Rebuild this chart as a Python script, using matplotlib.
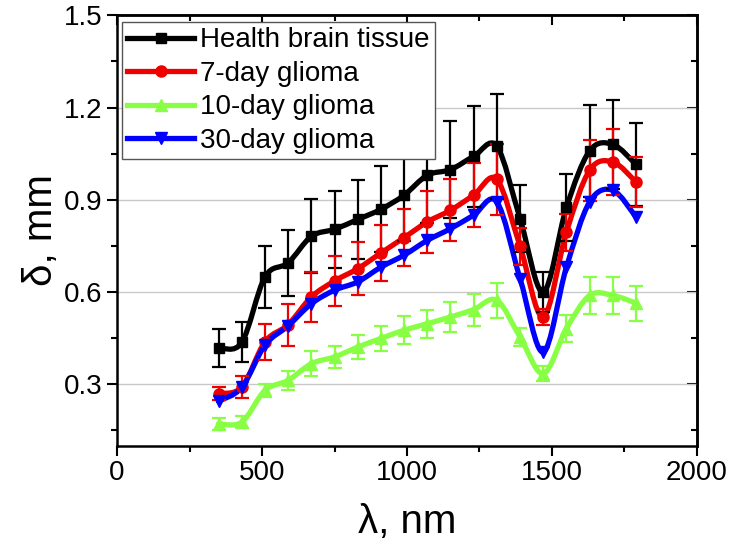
import matplotlib
matplotlib.use("Agg")
import matplotlib.pyplot as plt
import numpy as np
from matplotlib.path import Path
from matplotlib.patches import PathPatch
from matplotlib.lines import Line2D
from matplotlib.ticker import MultipleLocator

plt.rcParams['font.family'] = ['Liberation Sans', 'DejaVu Sans']

# wavelength, nm
wl = [350, 430, 510, 590, 670, 750, 830, 910, 990, 1070,
      1150, 1230, 1310, 1390, 1470, 1550, 1630, 1710, 1790]

health = [0.419, 0.436, 0.649, 0.695, 0.781, 0.804, 0.836, 0.869, 0.915, 0.980,
          0.998, 1.041, 1.074, 0.839, 0.600, 0.875, 1.059, 1.080, 1.015]
health_err = [0.062, 0.065, 0.100, 0.108, 0.120, 0.125, 0.127, 0.140, 0.150, 0.157,
              0.158, 0.164, 0.170, 0.110, 0.065, 0.110, 0.150, 0.146, 0.135]

g7 = [0.270, 0.291, 0.438, 0.494, 0.584, 0.636, 0.676, 0.727, 0.777, 0.828,
      0.866, 0.915, 0.966, 0.749, 0.519, 0.795, 0.996, 1.023, 0.958]
g7_err = [0.020, 0.035, 0.058, 0.068, 0.080, 0.080, 0.087, 0.090, 0.092, 0.100,
          0.100, 0.103, 0.114, 0.060, 0.027, 0.060, 0.100, 0.107, 0.080]

g10 = [0.172, 0.177, 0.280, 0.313, 0.367, 0.389, 0.421, 0.449, 0.476, 0.497,
       0.519, 0.543, 0.573, 0.454, 0.335, 0.481, 0.589, 0.589, 0.564]
g10_err = [0.020, 0.020, 0.020, 0.030, 0.040, 0.037, 0.040, 0.042, 0.045, 0.046,
           0.049, 0.052, 0.057, 0.030, 0.025, 0.045, 0.060, 0.060, 0.057]

g30 = [0.245, 0.290, 0.427, 0.490, 0.562, 0.606, 0.633, 0.681, 0.720, 0.768,
       0.806, 0.850, 0.893, 0.644, 0.405, 0.681, 0.893, 0.931, 0.844]

labels = ["Health brain tissue", "7-day glioma", "10-day glioma", "30-day glioma"]


def smooth_path(x, y):
    # Catmull-Rom curve through the points, drawn as cubic Bezier segments
    p = np.column_stack([x, y]).astype(float)
    p_ext = np.vstack([p[0], p, p[-1]])
    verts = [p[0]]
    codes = [Path.MOVETO]
    for i in range(len(p) - 1):
        p0, p1, p2, p3 = p_ext[i], p_ext[i + 1], p_ext[i + 2], p_ext[i + 3]
        verts += [p1 + (p2 - p0) / 6, p2 - (p3 - p1) / 6, p2]
        codes += [Path.CURVE4] * 3
    return Path(verts, codes)


fig = plt.figure(figsize=(7.32, 5.45), dpi=100)
ax = fig.add_axes([0.160, 0.182, 0.792, 0.790])

series = [
    (health, health_err, 'black', 's', 7.5),
    (g7, g7_err, '#ee0000', 'o', 8),
    (g10, g10_err, '#88ff44', '^', 8.5),
    (g30, None, '#0000ff', 'v', 8.5),
]

handles = []
for (vals, err, col, mk, ms), lab in zip(series, labels):
    ax.add_patch(PathPatch(smooth_path(wl, vals), fill=False, edgecolor=col,
                           lw=3.8, capstyle='round', joinstyle='round'))
    ax.errorbar(wl, vals, yerr=err, fmt=mk, color=col, ms=ms, mec=col,
                ecolor=col, elinewidth=1.6, capsize=5, capthick=1.6)
    handles.append(Line2D([], [], color=col, lw=3.8, marker=mk, ms=ms))

ax.set_xlim(0, 2000)
ax.set_ylim(0.1, 1.5)
ax.xaxis.set_major_locator(MultipleLocator(500))
ax.xaxis.set_minor_locator(MultipleLocator(250))
ax.yaxis.set_major_locator(MultipleLocator(0.3))
ax.yaxis.set_minor_locator(MultipleLocator(0.15))
ax.set_yticks([0.3, 0.6, 0.9, 1.2, 1.5])

ax.grid(axis='y', which='major', color='#c8c8c8', lw=1)
ax.set_axisbelow(True)

for s in ax.spines.values():
    s.set_linewidth(1.8)

ax.tick_params(which='both', direction='out', labelsize=20, width=1.5,
               top=False, right=False)
ax.tick_params(which='major', length=7)
ax.tick_params(which='minor', length=4)

# mirrored inner ticks on top and right
sec_x = ax.secondary_xaxis('top')
sec_x.xaxis.set_major_locator(MultipleLocator(500))
sec_x.xaxis.set_minor_locator(MultipleLocator(250))
sec_x.tick_params(which='both', direction='in', labeltop=False, width=1.5)
sec_x.tick_params(which='major', length=7)
sec_x.tick_params(which='minor', length=4)
sec_x.spines['top'].set_linewidth(1.8)
sec_y = ax.secondary_yaxis('right')
sec_y.yaxis.set_major_locator(MultipleLocator(0.3))
sec_y.yaxis.set_minor_locator(MultipleLocator(0.15))
sec_y.tick_params(which='both', direction='in', labelright=False, width=1.5)
sec_y.tick_params(which='major', length=7)
sec_y.tick_params(which='minor', length=4)
sec_y.spines['right'].set_linewidth(1.8)

ax.set_xlabel("λ, nm", fontsize=29, labelpad=12)
ax.set_ylabel("δ, mm", fontsize=29, labelpad=3)

leg = ax.legend(handles, labels, loc='upper left', fontsize=20,
                bbox_to_anchor=(0.008, 0.985), borderaxespad=0,
                handlelength=2.4, handletextpad=0.2, labelspacing=0.27,
                borderpad=0.2, fancybox=False, framealpha=1)
leg.get_frame().set_edgecolor('#555555')
leg.get_frame().set_linewidth(1)

fig.savefig("out.png", dpi=100)
